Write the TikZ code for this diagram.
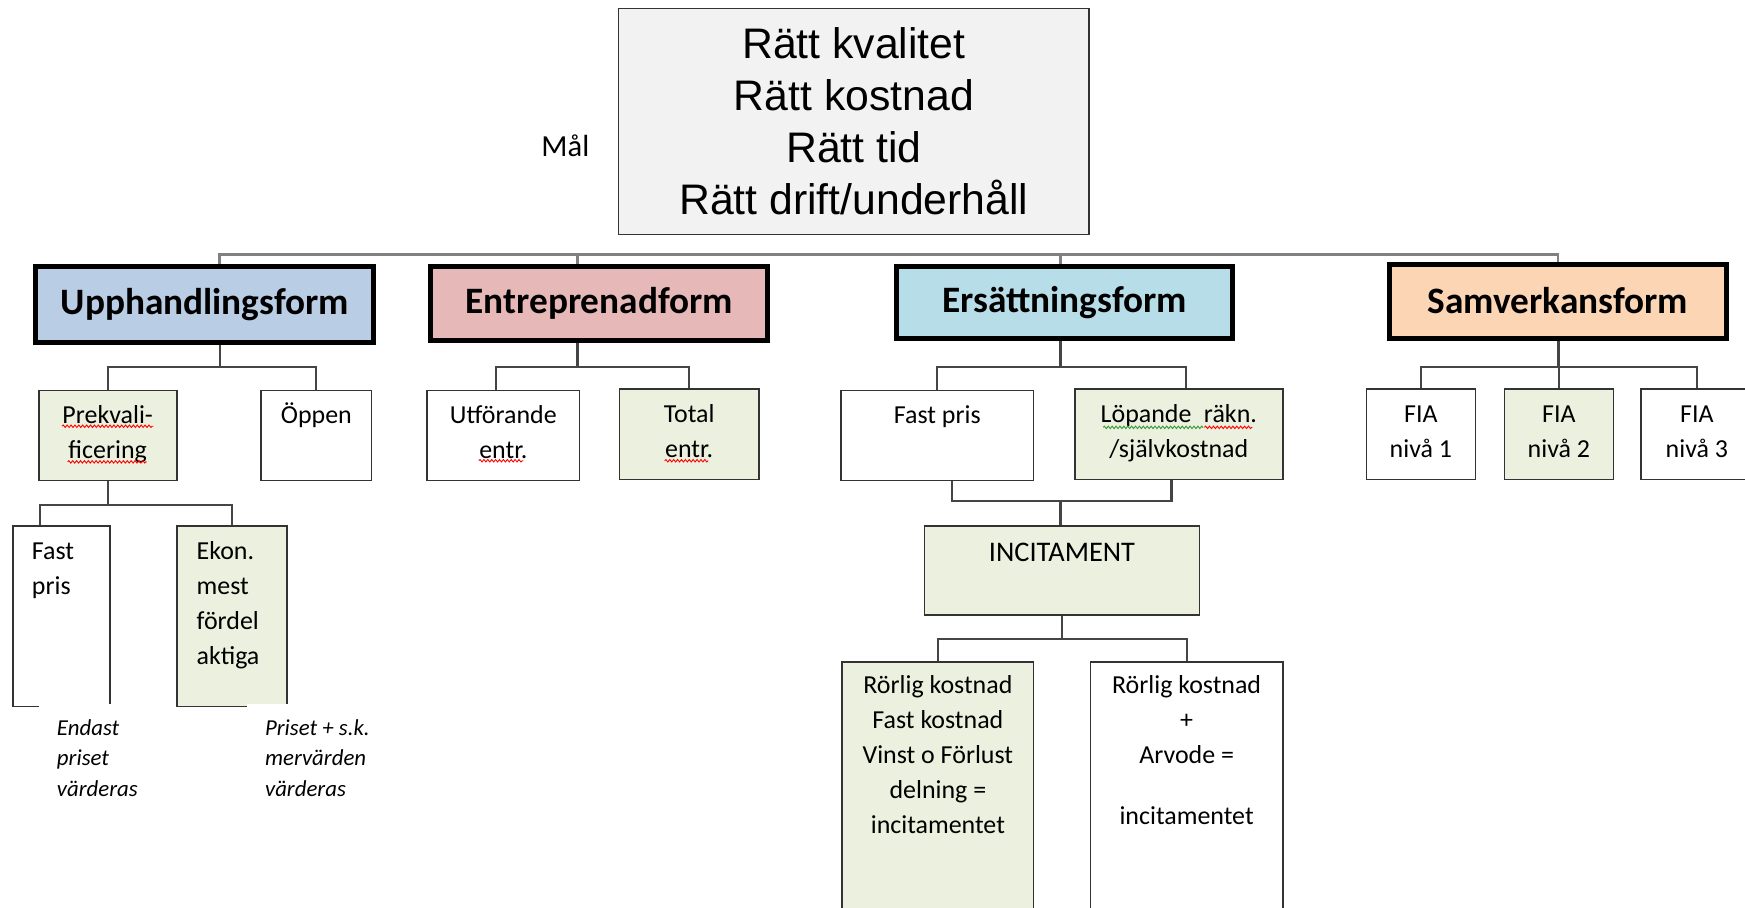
\documentclass[tikz,border=0pt]{standalone}
\usepackage{fontspec}
\setmainfont{Carlito}
\newfontfamily\arialfont{Liberation Sans}
\usetikzlibrary{positioning}
\usetikzlibrary{calc}
\usetikzlibrary{decorations.pathmorphing}
\definecolor{malgray}{rgb}{0.95,0.95,0.95}
\definecolor{uppblue}{rgb}{0.725,0.804,0.898}
\definecolor{entrred}{rgb}{0.902,0.725,0.722}
\definecolor{ersblue}{rgb}{0.718,0.871,0.910}
\definecolor{samorange}{rgb}{0.988,0.835,0.706}
\definecolor{rowgreen}{rgb}{0.922,0.945,0.871}
\definecolor{boxgray}{rgb}{0.2,0.2,0.2}
\definecolor{conngray}{rgb}{0.27,0.27,0.27}
\definecolor{busgray}{rgb}{0.5,0.5,0.5}
\definecolor{wavegreen}{rgb}{0.2,0.6,0.2}
\newcommand\boxcell[5][30pt]{\parbox[c][#3][t]{#2}{#4\relax\rule{0pt}{#1}#5}}

\begin{document}
\begin{tikzpicture}[x=1pt,y=-1pt,line join=miter,
    formbox/.style={draw=black,line width=4.5pt,inner sep=0pt,anchor=north west,minimum width=302.5pt,minimum height=66.5pt,font=\fontsize{33.5}{40}\selectfont\bfseries},
    cellbox/.style={draw=boxgray,line width=1.5pt,inner sep=0pt,anchor=north west,font=\fontsize{23.3}{31.5}\selectfont},
    note/.style={fill=white,inner sep=0pt,anchor=north west,font=\fontsize{20.5}{27.5}\selectfont\itshape},
    conn/.style={draw=conngray,line width=2pt},
    busline/.style={draw=busgray,line width=2.5pt},
    wave/.style={line width=0.8pt,decorate,decoration={snake,amplitude=1.1pt,segment length=3.5pt}}]
  \useasboundingbox (0,0) rectangle (1568,815);

  \node[cellbox,fill=malgray,minimum width=423pt,minimum height=203pt,align=center,font=\arialfont\fontsize{38.4}{46.7}\selectfont] (mal) at (555,7) {Rätt kvalitet\\Rätt kostnad\\Rätt tid\\Rätt drift/underhåll};
  \node[font=\fontsize{27.5}{30}\selectfont] (maltext) at (508,131) {Mål};

  \node[formbox,fill=uppblue,minimum width=303.5pt,minimum height=68.5pt] (upp) at (30,237) {Upphandlingsform};
  \node[formbox,fill=entrred] (entr) at (385,237) {Entreprenadform};
  \node[formbox,fill=ersblue,minimum height=64.5pt] (ers) at (803,237) {Ersättningsform};
  \node[formbox,fill=samorange] (sam) at (1246.5,235) {Samverkansform};

  % upphandling
  \node[cellbox,fill=rowgreen] (prek) at (34,350) {\boxcell{124pt}{81pt}{\centering}{Prekvali-\\ficering}};
  \node[cellbox] (oppen) at (234,350) {\boxcell{99pt}{81pt}{\centering}{Öppen}};
  \node[cellbox] (fastA) at (11,472) {\boxcell{87pt}{162pt}{\raggedright\leftskip=17pt}{Fast\\pris}};
  \node[cellbox,fill=rowgreen] (ekon) at (158,472) {\boxcell{99pt}{162pt}{\raggedright\leftskip=18pt}{Ekon.\\mest\\fördel\\aktiga}};
  \node[note] (endast) at (35,632.5) {\boxcell[28pt]{120pt}{90pt}{\raggedright\leftskip=16pt}{Endast\\priset\\värderas}};
  \node[note] (priset) at (222,632.5) {\boxcell[28pt]{130pt}{90pt}{\raggedright\leftskip=16pt}{Priset + s.k.\\mervärden\\värderas}};

  % entreprenad
  \node[cellbox] (utf) at (383,350) {\boxcell{137pt}{81pt}{\centering}{Utförande\\entr.}};
  \node[cellbox,fill=rowgreen] (total) at (556,349) {\boxcell{125pt}{81pt}{\centering}{Total\\entr.}};

  % ersattning
  \node[cellbox] (fastB) at (755,350) {\boxcell{173pt}{81pt}{\centering}{Fast pris}};
  \node[cellbox,fill=rowgreen] (lop) at (965,349) {\boxcell{187pt}{81pt}{\centering}{Löpande\hspace{6pt} räkn.\\/självkostnad}};
  \node[cellbox,fill=rowgreen] (inc) at (830,472) {\boxcell[32pt]{247pt}{80pt}{\centering\fontsize{25.5}{31.5}\selectfont}{INCITAMENT}};
  \node[cellbox,fill=rowgreen] (rorA) at (756,594) {\boxcell[28pt]{172pt}{240pt}{\centering}{Rörlig kostnad\\Fast kostnad\\Vinst o Förlust\\delning =\\incitamentet}};
  \node[cellbox] (rorB) at (979,594) {\boxcell[28pt]{173pt}{240pt}{\centering}{Rörlig kostnad\\+\\Arvode =\\[24pt]incitamentet}};

  % samverkan
  \node[cellbox] (fia1) at (1227,349) {\boxcell{98pt}{81pt}{\centering}{FIA\\nivå 1}};
  \node[cellbox,fill=rowgreen] (fia2) at (1351,349) {\boxcell{98pt}{81pt}{\centering}{FIA\\nivå 2}};
  \node[cellbox] (fia3) at (1474,349) {\boxcell{100pt}{81pt}{\centering}{FIA\\nivå 3}};

  % spelling marks
  \draw[wave,red] ($(prek.north)+(-41,33)$) -- ++(82,0);
  \draw[wave,red] ($(prek.north)+(-36,65)$) -- ++(71,0);
  \draw[wave,red] ($(utf.north)+(-22,64)$) -- ++(40,0);
  \draw[wave,red] ($(total.north)+(-22,65)$) -- ++(39,0);
  \draw[wave,wavegreen] ($(lop.north)+(-68,35)$) -- ++(90,0);
  \draw[wave,red] ($(lop.north)+(23,35)$) -- ++(43,0);

  \coordinate (bus) at (0,229);
  \coordinate (upptop) at ([xshift=13.5pt]upp.north);
  \coordinate (uppfoot) at ([xshift=13.5pt]upp.south);
  \coordinate (entrtop) at ([xshift=-19.5pt]entr.north);
  \coordinate (entrfoot) at ([xshift=-19.5pt]entr.south);
  \coordinate (erstop) at ([xshift=-3.5pt]ers.north);
  \coordinate (ersfoot) at ([xshift=-3.5pt]ers.south);
  \coordinate (ersjoin) at (953,450);

  \draw[busline] (upptop) -- (upptop |- bus) -- (sam.north |- bus) -- (sam.north);
  \draw[busline] (entrtop) -- (entrtop |- bus);
  \draw[busline] (erstop) -- (erstop |- bus);

  \draw[conn] (uppfoot) -- ++(0,20) -| (prek.north);
  \draw[conn] (uppfoot) -- ++(0,20) -| (oppen.north);
  \draw[conn] (prek.south) -- ++(0,21) -| ([xshift=-19.5pt]fastA.north);
  \draw[conn] (prek.south) -- ++(0,21) -| (ekon.north);
  \draw[conn] (entrfoot) -- ++(0,22) -| ([xshift=-6.5pt]utf.north);
  \draw[conn] (entrfoot) -- ++(0,22) -| (total.north);
  \draw[conn] (ersfoot) -- ++(0,24) -| (fastB.north);
  \draw[conn] (ersfoot) -- ++(0,24) -| ([xshift=6.5pt]lop.north);
  \draw[conn] ([xshift=13.5pt]fastB.south) |- (ersjoin) -| ([xshift=-6.5pt]lop.south);
  \draw[conn] (ersjoin) -- (ersjoin |- inc.north);
  \draw[conn] (inc.south) -- ++(0,21) -| (rorA.north);
  \draw[conn] (inc.south) -- ++(0,21) -| (rorB.north);
  \draw[conn] (sam.south) -- ++(0,24) -| (fia1.north);
  \draw[conn] (sam.south) -- ++(0,24) -| (fia3.north);
  \draw[conn] (fia2.north |- sam.south) -- (fia2.north);
\end{tikzpicture}
\end{document}
